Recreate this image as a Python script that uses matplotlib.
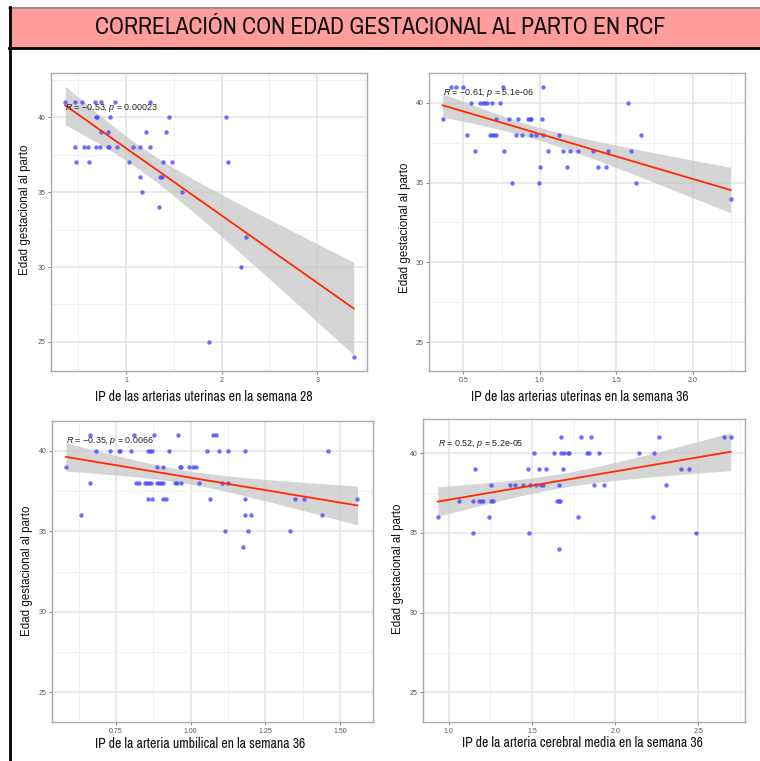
import numpy as np
import matplotlib
matplotlib.use('Agg')
import matplotlib.pyplot as plt
from matplotlib.patches import Rectangle
from matplotlib.lines import Line2D
from matplotlib.ticker import FixedLocator

plt.rcParams['font.family'] = ['Liberation Sans', 'DejaVu Sans']
plt.rcParams['mathtext.fontset'] = 'custom'
plt.rcParams['mathtext.it'] = 'Liberation Sans:italic'
plt.rcParams['mathtext.rm'] = 'Liberation Sans'

NARROW = ['Archivo Narrow', 'PT Sans Narrow', 'Liberation Sans', 'DejaVu Sans']

# IP arterias uterinas semana 28 vs edad gestacional
x_ut28 = [0.364, 0.469, 0.538, 0.678, 0.741, 0.888, 1.255,
          0.685, 0.696, 0.836, 1.444, 2.042,
          0.741, 0.811, 1.213, 1.416,
          0.469, 0.556, 0.598, 0.682, 0.731, 0.811, 0.822, 0.906, 1.077, 1.150, 1.248,
          0.476, 0.612, 1.031, 1.388, 1.479, 2.070,
          1.150, 1.360, 1.381,
          1.168, 1.587,
          1.343, 2.252, 2.206, 1.871, 3.381]
y_ut28 = [41] * 7 + [40] * 5 + [39] * 4 + [38] * 11 + [37] * 6 + [36] * 3 + [35] * 2 + \
         [34, 32, 30, 25, 24]

# IP arterias uterinas semana 36
x_ut36 = [0.417, 0.452, 0.500, 0.761, 1.022,
          0.548, 0.609, 0.626, 0.639, 0.652, 0.691, 0.739, 1.580,
          0.365, 0.717, 0.800, 0.857, 0.922, 0.935, 0.943, 1.013,
          0.526, 0.674, 0.687, 0.704, 0.713, 0.843, 0.887, 0.943, 0.974, 1.022, 1.126, 1.665,
          0.578, 0.765, 1.057, 1.152, 1.200, 1.252, 1.348, 1.443, 1.598,
          1.004, 1.178, 1.383, 1.430,
          0.817, 0.996, 1.630,
          2.248]
y_ut36 = [41] * 5 + [40] * 8 + [39] * 8 + [38] * 12 + [37] * 9 + [36] * 4 + [35] * 3 + [34]

# IP arteria umbilical semana 36
x_umb = [0.662, 0.809, 0.878, 0.958, 1.074, 1.085,
         0.682, 0.731, 0.759, 0.762, 0.799, 0.857, 0.864, 0.871, 0.929, 1.056, 1.095, 1.124,
         1.183, 1.460,
         0.583, 0.887, 0.908, 0.965, 0.969, 0.996, 1.007, 1.018,
         0.662, 0.818, 0.828, 0.848, 0.855, 0.861, 0.867, 0.889, 0.895, 0.902, 0.908, 0.948,
         0.954, 0.968, 1.027, 1.105, 1.125,
         0.857, 0.869, 0.906, 0.917, 1.065, 1.183, 1.350, 1.379, 1.558,
         0.632, 1.183, 1.203, 1.440,
         1.115, 1.193, 1.331,
         1.174]
y_umb = [41] * 6 + [40] * 14 + [39] * 8 + [38] * 17 + [37] * 9 + [36] * 4 + [35] * 3 + [34]

# IP arteria cerebral media semana 36
x_acm = [1.675, 1.795, 1.855, 2.264, 2.654, 2.694,
         1.515, 1.635, 1.675, 1.695, 1.715, 1.725, 1.833, 1.845, 1.905, 2.144, 2.236,
         1.158, 1.475, 1.545, 1.585, 1.685, 2.396, 2.446,
         1.254, 1.365, 1.395, 1.445, 1.489, 1.525, 1.555, 1.565, 1.665, 1.875, 1.935, 2.306,
         1.064, 1.144, 1.184, 1.194, 1.204, 1.254, 1.264, 1.653, 1.661, 1.669,
         0.934, 1.244, 1.775, 2.226,
         1.144, 1.485, 2.486,
         1.665]
y_acm = [41] * 6 + [40] * 11 + [39] * 7 + [38] * 12 + [37] * 10 + [36] * 4 + [35] * 3 + [34]

labels_r = [r'$R$ = −0.53, $p$ = 0.00023', r'$R$ = −0.61, $p$ = 5.1e-06',
            r'$R$ = −0.35, $p$ = 0.0066', r'$R$ = 0.52, $p$ = 5.2e-05']
x_titles = ['IP de las arterias uterinas en la semana 28',
            'IP de las arterias uterinas en la semana 36',
            'IP de la arteria umbilical en la semana 36',
            'IP de la arteria cerebral media en la semana 36']

panels = [
    # data, axes rect, xlim, ylim, xticks, xminor, xticklabels
    (x_ut28, y_ut28, [0.0671, 0.5125, 0.4158, 0.3916], (0.215, 3.52), (23.06, 42.96),
     [1, 2, 3], [0.5, 1.5, 2.5, 3.5], ['1', '2', '3']),
    (x_ut36, y_ut36, [0.5645, 0.5125, 0.4158, 0.3916], (0.276, 2.342), (23.2, 41.86),
     [0.5, 1.0, 1.5, 2.0], [0.75, 1.25, 1.75, 2.25], ['0.5', '1.0', '1.5', '2.0']),
    (x_umb, y_umb, [0.0684, 0.0512, 0.4220, 0.3959], (0.536, 1.609), (23.16, 41.86),
     [0.75, 1.0, 1.25, 1.5], [0.625, 0.875, 1.125, 1.375], ['0.75', '1.00', '1.25', '1.50']),
    (x_acm, y_acm, [0.5570, 0.0512, 0.4237, 0.3986], (0.847, 2.782), (23.14, 42.17),
     [1.0, 1.5, 2.0, 2.5], [1.25, 1.75, 2.25, 2.75], ['1.0', '1.5', '2.0', '2.5']),
]
# y-label centres and x-label centres in figure fraction
ylab_pos = [(25 / 760, 1 - 210 / 761), (405 / 760, 1 - 228 / 761),
            (27 / 760, 1 - 571 / 761), (398 / 760, 1 - 569 / 761)]
xlab_pos = [(204 / 760, 1 - 397 / 761), (580 / 760, 1 - 397 / 761),
            (200 / 760, 1 - 744 / 761), (582 / 760, 1 - 743 / 761)]


def fit_band(x, y, xs):
    x = np.asarray(x, float)
    y = np.asarray(y, float)
    n = len(x)
    b, a = np.polyfit(x, y, 1)
    resid = y - (a + b * x)
    s = np.sqrt(np.sum(resid ** 2) / (n - 2))
    df = n - 2
    t = 1.96 + 2.37 / df
    se = s * np.sqrt(1 / n + (xs - x.mean()) ** 2 / np.sum((x - x.mean()) ** 2))
    yhat = a + b * xs
    return yhat, yhat - t * se, yhat + t * se


fig = plt.figure(figsize=(7.6, 7.61), dpi=100)

for i, (x, y, rect, xl, yl, xt, xm, xtl) in enumerate(panels):
    ax = fig.add_axes(rect)
    xs = np.linspace(min(x), max(x), 100)
    yhat, lo, hi = fit_band(x, y, xs)
    ax.fill_between(xs, lo, hi, color='#c4c4c4', alpha=0.7, lw=0, zorder=2)
    ax.scatter(x, y, s=10, color='#4a4aff', alpha=0.8, lw=0, zorder=3)
    ax.plot(xs, yhat, color='#ff2a00', lw=1.3, zorder=4)
    ax.text(min(x), 40.6, labels_r[i], fontsize=6.4, color='#222222', va='center', ha='left', zorder=5)

    ax.set_xlim(xl)
    ax.set_ylim(yl)
    ax.set_xticks(xt)
    ax.set_xticklabels(xtl)
    ax.xaxis.set_minor_locator(FixedLocator(xm))
    ax.set_yticks([25, 30, 35, 40])
    ax.yaxis.set_minor_locator(FixedLocator([27.5, 32.5, 37.5, 42.5]))
    ax.grid(which='major', color='#e3e3e3', lw=1.1, zorder=0)
    ax.grid(which='minor', color='#efefef', lw=0.6, zorder=0)
    ax.set_axisbelow(True)
    ax.tick_params(which='major', labelsize=5, labelcolor='#555555', color='#555555',
                   length=2, width=0.5, pad=2)
    ax.tick_params(which='minor', length=0)
    for sp in ax.spines.values():
        sp.set_color('#aaaaaa')
        sp.set_linewidth(1.0)

    fig.text(*ylab_pos[i], 'Edad gestacional al parto', rotation=90, fontsize=8.3,
             ha='center', va='center', color='#111111')
    fig.text(*xlab_pos[i], x_titles[i], fontsize=9.9, family=NARROW,
             ha='center', va='center', color='#111111')

# title banner and frame
fig.add_artist(Rectangle((9 / 760, 1 - 48 / 761), 751 / 760, 41 / 761, transform=fig.transFigure,
                         facecolor='#ff9c9c', edgecolor='none', zorder=0))
fig.add_artist(Line2D([9 / 760, 1], [1 - 7.5 / 761] * 2, transform=fig.transFigure,
                      color='#888888', lw=1.2))
fig.add_artist(Line2D([9 / 760, 1], [1 - 48 / 761] * 2, transform=fig.transFigure,
                      color='black', lw=2))
fig.add_artist(Line2D([10 / 760] * 2, [0, 1 - 7 / 761], transform=fig.transFigure,
                      color='black', lw=2))
fig.text(380 / 760, 1 - 28 / 761, 'CORRELACIÓN CON EDAD GESTACIONAL AL PARTO EN RCF',
         fontsize=17, family=NARROW, ha='center', va='center', color='#111111')

fig.savefig('out.png', dpi=100)
